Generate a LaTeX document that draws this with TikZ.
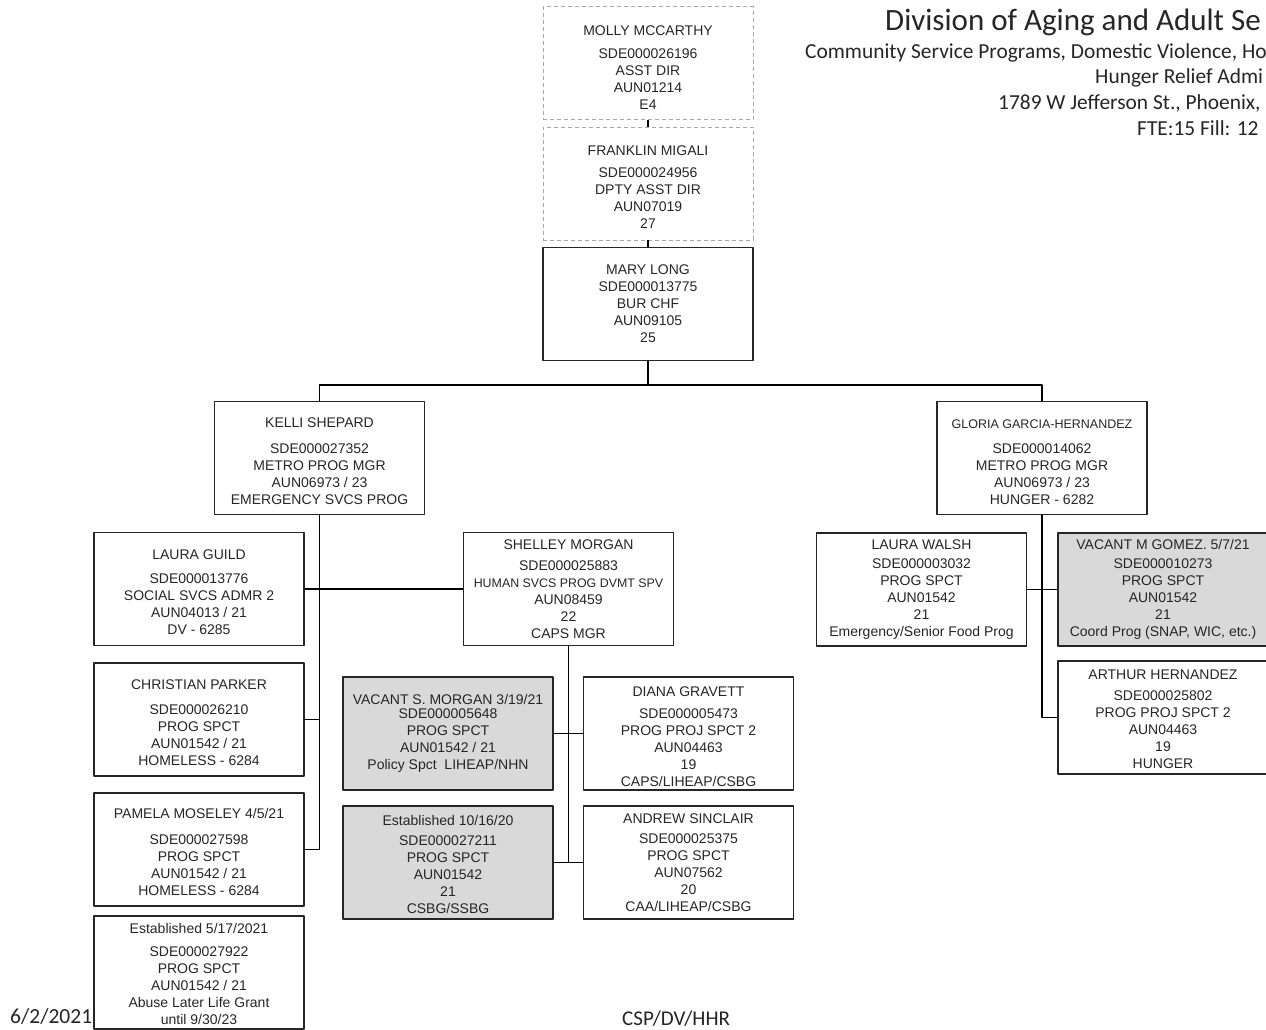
\documentclass[tikz,border=0pt]{standalone}
\usepackage{fontspec}
\setmainfont{Liberation Sans}
\newfontfamily\hdrfont{Carlito}
\definecolor{vacgray}{HTML}{D9D9D9}
\definecolor{dashgray}{HTML}{A8A8A8}
\newcommand{\padtop}[1]{\rule{0pt}{#1pt}}
\tikzset{
  box/.style={draw=black!85, line width=1.1pt, minimum width=210pt, minimum height=113pt,
    inner sep=0pt, align=center, text=black!85, font=\fontsize{14}{17}\selectfont},
  vacbox/.style={box, fill=vacgray},
  dashbox/.style={box, draw=dashgray, line width=0.9pt, dash pattern=on 4pt off 3pt},
  link/.style={line width=1.3pt, black},
  hdr/.style={anchor=base west, inner sep=0pt, text=black!85}
}
\begin{document}
\begin{tikzpicture}[x=1pt, y=-1pt, line join=round]
\fill[white] (0,0) rectangle (1266,1029);
\useasboundingbox (0,0) rectangle (1266,1029);
% heading
\node[hdr, font={\hdrfont\fontsize{31}{36}\selectfont}] (title) at (885,30) {Division of Aging and Adult Se};
\node[hdr, font={\hdrfont\fontsize{21.4}{25}\selectfont}] (sub1) at (805,58) {Community Service Programs, Domestic Violence, Ho};
\node[hdr, font={\hdrfont\fontsize{21.4}{25}\selectfont}] (sub2) at (1095,83) {Hunger Relief Admi};
\node[hdr, font={\hdrfont\fontsize{21.4}{25}\selectfont}] (sub3) at (998,109) {1789 W Jefferson St., Phoenix,};
\node[hdr, font={\hdrfont\fontsize{21.4}{25}\selectfont}] (sub4) at (1137,135) {FTE:15 Fill: 12};
\node[hdr, font={\hdrfont\fontsize{21.5}{25}\selectfont}] (date) at (10,1023) {6/2/2021};
\node[hdr, font={\hdrfont\fontsize{21}{25}\selectfont}] (foot) at (622,1025) {CSP/DV/HHR};
% top of the chain
\node[dashbox] (molly) at (648,63) {\padtop{18}MOLLY MCCARTHY\\[6pt]SDE000026196\\ASST DIR\\AUN01214\\E4};
\node[dashbox] (franklin) at (648,183.5) {\padtop{16}FRANKLIN MIGALI\\[5pt]SDE000024956\\DPTY ASST DIR\\AUN07019\\27};
\node[box] (mary) at (648,304) {MARY LONG\\SDE000013775\\BUR CHF\\AUN09105\\25};
\node[box] (kelli) at (319.5,458) {\padtop{17}KELLI SHEPARD\\[9pt]SDE000027352\\METRO PROG MGR\\AUN06973 / 23\\EMERGENCY SVCS PROG};
\node[box] (gloria) at (1042,458) {\padtop{17}{\fontsize{12.5}{17}\selectfont GLORIA GARCIA-HERNANDEZ}\\[8pt]SDE000014062\\METRO PROG MGR\\AUN06973 / 23\\HUNGER - 6282};
% emergency services
\node[box] (lguild) at (199,589) {\padtop{16}LAURA GUILD\\[7pt]SDE000013776\\SOCIAL SVCS ADMR 2\\AUN04013 / 21\\DV - 6285};
\node[box] (shelley) at (568.5,589) {SHELLEY MORGAN\\[4pt]SDE000025883\\{\fontsize{12.4}{17}\selectfont HUMAN SVCS PROG DVMT SPV}\\AUN08459\\22\\CAPS MGR};
\node[box] (cparker) at (199,719.5) {\padtop{16}CHRISTIAN PARKER\\[8pt]SDE000026210\\PROG SPCT\\AUN01542 / 21\\HOMELESS - 6284};
\node[box] (pamela) at (199,849.5) {\padtop{16}PAMELA MOSELEY 4/5/21\\[9pt]SDE000027598\\PROG SPCT\\AUN01542 / 21\\HOMELESS - 6284};
\node[box] (est517) at (199,972.5) {\padtop{14}Established 5/17/2021\\[6pt]SDE000027922\\PROG SPCT\\AUN01542 / 21\\Abuse Later Life Grant\\until 9/30/23};
\node[vacbox] (smorgan) at (448,733.5) {VACANT S. MORGAN 3/19/21\\[-3pt]SDE000005648\\PROG SPCT\\AUN01542 / 21\\Policy Spct\ \ LIHEAP/NHN};
\node[box] (diana) at (688.5,733.5) {\padtop{16}DIANA GRAVETT\\[5pt]SDE000005473\\PROG PROJ SPCT 2\\AUN04463\\19\\CAPS/LIHEAP/CSBG};
\node[vacbox] (est1016) at (448,862.5) {\padtop{14}Established 10/16/20\\[3pt]SDE000027211\\PROG SPCT\\AUN01542\\21\\CSBG/SSBG};
\node[box] (andrew) at (688.5,862.5) {ANDREW SINCLAIR\\[3pt]SDE000025375\\PROG SPCT\\AUN07562\\20\\CAA/LIHEAP/CSBG};
% hunger
\node[box] (lwalsh) at (921.5,589.5) {LAURA WALSH\\[2pt]SDE000003032\\PROG SPCT\\AUN01542\\21\\Emergency/Senior Food Prog};
\node[vacbox] (gomez) at (1163,589.5) {VACANT M GOMEZ. 5/7/21\\[2pt]SDE000010273\\PROG SPCT\\AUN01542\\21\\Coord Prog (SNAP, WIC, etc.)};
\node[box] (arthur) at (1163,717.5) {\padtop{14}ARTHUR HERNANDEZ\\[4pt]SDE000025802\\PROG PROJ SPCT 2\\AUN04463\\19\\HUNGER};
% lines
\draw[link] (molly) -- (franklin);
\draw[link] (franklin) -- (mary);
\draw[link] (mary.south) -- ++(0,24) coordinate (J) -| (kelli.north);
\draw[link] (J) -| (gloria.north);
\draw[link] (kelli.south) |- (pamela.east);
\draw[link] (lguild) -- (shelley);
\draw[link] (cparker.east) -- (cparker.east -| kelli.south);
\draw[link] (shelley.south) |- (est1016.east);
\draw[link] (smorgan) -- (diana);
\draw[link] (est1016) -- (andrew);
\draw[link] (gloria.south) |- (arthur.west);
\draw[link] (lwalsh) -- (gomez);
\end{tikzpicture}
\end{document}
